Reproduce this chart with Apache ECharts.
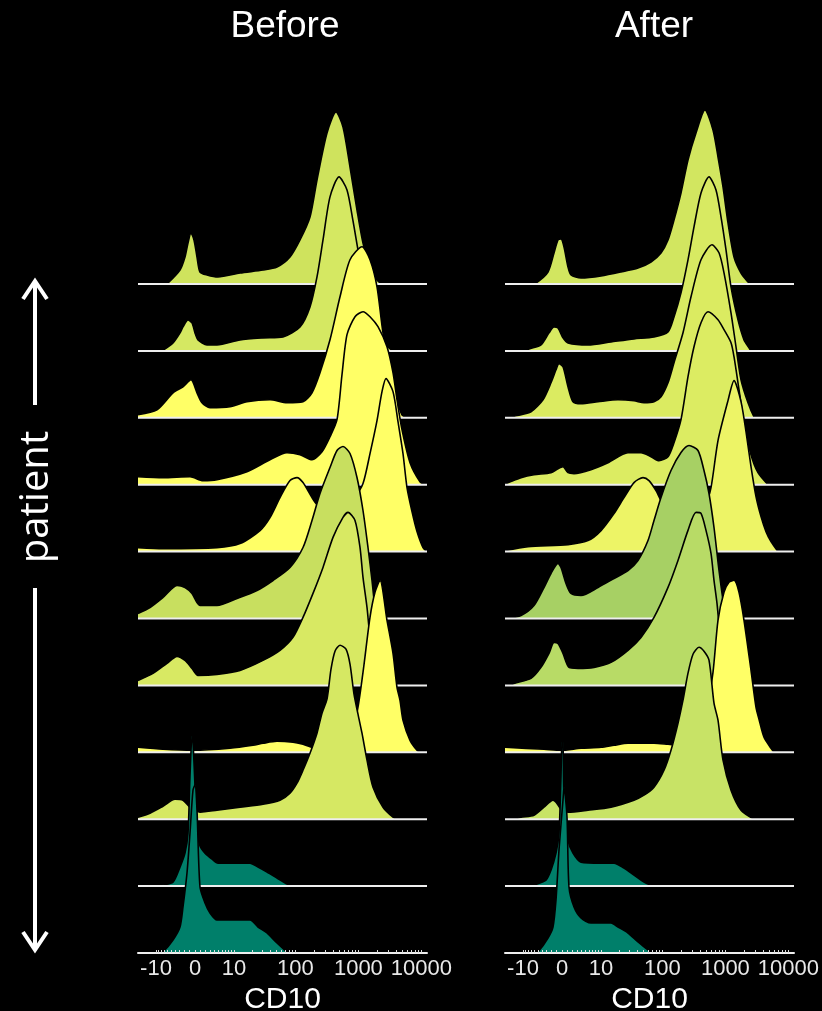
<!DOCTYPE html>
<html>
<head>
<meta charset="utf-8">
<script src="https://cdn.jsdelivr.net/npm/echarts@6/dist/echarts.min.js"></script>
<style>
  html, body { margin: 0; padding: 0; background: #000; }
  #chart { width: 822px; height: 1011px; }
</style>
</head>
<body>
<div id="chart"></div>
<script>
// CD10 intensity is shown on an arcsinh display scale (about 63 channels per decade).
const CHANNELS_PER_E = 27.36;
const LINEAR_WIDTH = 5.1;
function channel(v) { return CHANNELS_PER_E * Math.asinh(v / LINEAR_WIDTH); }

const PANEL_TITLES = ['Before', 'After'];
const AXIS_NAME = 'CD10';
const SIDE_LABEL = 'patient';

const TICK_VALUES = [-10, 0, 10, 100, 1000, 10000];
const TICK_LABELS = ['-10', '0', '10', '100', '1000', '10000'];
const MINOR_TICK_VALUES = [-10, -9, -8, -7, -6, -5, -4, -3, -2, -1, 0, 1, 2, 3, 4, 5, 6, 7, 8, 9, 10,
  20, 30, 40, 50, 60, 70, 80, 90, 100, 200, 300, 400, 500, 600, 700, 800, 900,
  1000, 2000, 3000, 4000, 5000, 6000, 7000, 8000, 9000, 10000];
const CHANNEL_RANGE = [-57, 232];

// Histograms, one per patient row (top to bottom): [display channel, normalised count]
const before_r0 = [[-28,0],[-15,14],[-10,27],[-7,41],[-4,51],[-1,44],[2,27],[5,12],[12,9],[23,7],[45,11],[68,14],[82,17],[95,27],[105,44],[115,67],[122,104],[132,151],[141,172],[148,157],[155,117],[162,74],[168,41],[175,17],[182,4],[187,0]];
const before_r1 = [[-33,0],[-22,8],[-15,18],[-12,24],[-7,31],[-3,28],[0,18],[3,11],[12,6],[22,6],[45,11],[68,13],[88,14],[105,24],[115,44],[122,74],[128,111],[135,154],[144,174],[152,161],[158,130],[165,90],[175,45],[183,18],[192,5],[198,0]];
const before_r2 = [[-57,3],[-38,8],[-22,25],[-12,31],[-4,38],[2,25],[7,15],[15,10],[35,11],[52,16],[75,18],[92,15],[108,16],[117,25],[125,45],[135,78],[145,121],[155,158],[167,171],[175,158],[182,131],[188,85],[195,51],[202,18],[207,3],[212,0]];
const before_r3 = [[-57,8],[-32,7],[-5,8],[8,4],[22,5],[52,13],[75,25],[92,32],[105,30],[117,25],[127,33],[135,48],[142,65],[147,110],[152,150],[160,168],[168,173],[175,168],[183,158],[192,138],[198,112],[202,85],[207,55],[215,22],[225,3],[230,0]];
const before_r4 = [[-57,4],[-32,3],[22,4],[45,8],[65,21],[75,34],[85,54],[95,71],[102,74],[108,69],[117,54],[122,47],[130,42],[140,42],[150,46],[160,55],[168,68],[175,98],[182,131],[187,160],[191,173],[198,160],[203,130],[208,98],[212,64],[217,40],[222,20],[228,4],[232,0]];
const before_r5 = [[-57,5],[-45,11],[-32,21],[-18,33],[-10,31],[-3,25],[5,13],[22,13],[42,20],[62,28],[78,38],[95,51],[108,71],[117,98],[125,125],[135,151],[142,168],[148,172],[155,165],[162,141],[168,108],[173,71],[177,38],[180,11],[183,0]];
const before_r6 = [[-57,5],[-42,12],[-28,22],[-18,29],[-10,25],[-3,17],[3,10],[22,11],[45,15],[68,25],[85,35],[98,48],[108,68],[118,92],[128,118],[138,148],[148,168],[153,173],[160,165],[165,138],[168,108],[172,78],[175,48],[180,18],[185,0]];
const before_r7 = [[-57,5],[-32,3],[-2,2],[35,4],[58,7],[68,9],[82,11],[98,10],[108,8],[118,5],[135,6],[150,10],[155,20],[162,40],[168,80],[175,135],[180,160],[185,172],[192,132],[198,99],[202,65],[205,52],[208,32],[215,12],[222,2],[225,0]];
const before_r8 = [[-57,2],[-45,6],[-32,13],[-20,20],[-12,19],[-5,12],[5,7],[22,9],[45,12],[68,15],[85,19],[95,26],[102,36],[108,49],[115,66],[122,86],[127,106],[132,120],[136,150],[140,168],[145,174],[151,170],[155,155],[159,125],[163,105],[167,86],[172,59],[178,32],[188,12],[198,2],[202,0]];
const before_r9 = [[-36,0],[-33,1],[-22,4],[-15,19],[-10,33],[-7,53],[-5,110],[-3,150],[-2,144],[0,100],[2,55],[5,40],[10,33],[17,27],[23,23],[35,23],[55,23],[63,19],[72,14],[82,8],[92,2],[95,0]];
const before_r10 = [[-35,0],[-32,1],[-22,13],[-15,26],[-12,46],[-8,80],[-5,120],[-2,163],[0,168],[2,143],[5,66],[10,50],[15,40],[22,33],[35,33],[55,33],[63,26],[72,20],[82,10],[92,1],[95,0]];

const after_r0 = [[-31,0],[-26,1],[-14,12],[-8,31],[-4,44],[-1,45],[2,37],[6,17],[9,9],[19,6],[39,8],[59,12],[76,16],[89,22],[99,31],[106,44],[112,64],[119,91],[126,124],[134,151],[143,174],[151,154],[156,127],[161,97],[166,61],[172,27],[179,11],[186,2],[188,0]];
const after_r1 = [[-37,0],[-33,2],[-21,6],[-13,18],[-8,24],[-4,23],[1,13],[6,8],[26,6],[49,9],[72,12],[92,14],[106,19],[112,34],[119,58],[126,91],[132,124],[139,158],[147,174],[154,161],[159,134],[164,101],[169,64],[176,31],[182,11],[187,3],[189,0]];
const after_r2 = [[-54,0],[-46,2],[-31,6],[-19,18],[-11,35],[-6,48],[-3,54],[1,51],[6,31],[11,16],[19,14],[36,16],[56,18],[72,17],[82,15],[92,16],[99,21],[106,35],[112,55],[121,85],[129,121],[139,158],[150,173],[157,165],[162,145],[169,105],[174,71],[179,38],[186,15],[192,1],[194,0]];
const after_r3 = [[-57,1],[-54,2],[-41,7],[-28,10],[-11,12],[-4,16],[1,18],[6,12],[12,11],[29,15],[46,22],[66,32],[79,32],[89,28],[97,24],[106,28],[112,42],[119,65],[126,108],[132,138],[139,162],[146,173],[156,165],[162,155],[169,142],[172,128],[177,95],[182,62],[189,30],[196,12],[206,0]];
const after_r4 = [[-57,1],[-34,5],[6,7],[26,11],[39,21],[52,38],[62,54],[72,69],[81,74],[87,71],[94,61],[101,48],[109,44],[124,42],[134,45],[144,50],[149,64],[156,111],[166,151],[172,171],[179,150],[184,120],[189,85],[194,55],[199,35],[204,20],[209,10],[216,0]];
const after_r5 = [[-54,0],[-41,3],[-28,13],[-18,31],[-11,45],[-4,55],[-1,51],[4,35],[9,25],[19,23],[36,31],[52,40],[66,48],[76,58],[86,78],[92,98],[99,121],[109,148],[119,166],[127,173],[136,168],[142,148],[147,125],[152,91],[157,48],[161,18],[164,0]];
const after_r6 = [[-51,0],[-48,2],[-31,7],[-21,18],[-13,32],[-8,43],[-4,42],[1,32],[7,18],[16,17],[32,18],[49,23],[66,35],[79,48],[92,68],[106,98],[116,125],[126,155],[134,173],[139,172],[144,155],[149,132],[152,105],[155,82],[157,60],[159,35],[162,12],[166,0]];
const after_r7 = [[-57,5],[-18,3],[-1,2],[19,4],[39,5],[52,7],[66,9],[92,9],[106,8],[119,7],[134,10],[139,20],[145,45],[151,80],[156,132],[162,160],[167,170],[172,172],[177,160],[182,132],[189,82],[194,45],[197,33],[202,15],[209,4],[212,0]];
const after_r8 = [[-48,0],[-41,2],[-28,4],[-18,12],[-9,19],[-6,17],[-1,10],[6,7],[26,9],[49,12],[72,19],[82,24],[92,32],[102,49],[109,69],[116,96],[121,119],[126,146],[131,165],[137,172],[142,168],[147,159],[152,116],[156,99],[161,59],[169,29],[179,9],[192,0]];
const after_r9 = [[-31,0],[-28,1],[-16,6],[-11,16],[-6,33],[-3,53],[-1,110],[0,144],[1,144],[2,86],[6,46],[11,33],[19,24],[39,23],[52,23],[62,18],[72,11],[82,4],[91,0]];
const after_r10 = [[-27,0],[-24,1],[-14,15],[-9,26],[-6,53],[-3,103],[1,153],[2,166],[5,136],[7,66],[12,46],[19,35],[29,30],[49,30],[56,26],[66,20],[76,11],[86,3],[89,0]];

const BEFORE_ROWS = [before_r0, before_r1, before_r2, before_r3, before_r4, before_r5, before_r6, before_r7, before_r8, before_r9, before_r10];
const AFTER_ROWS = [after_r0, after_r1, after_r2, after_r3, after_r4, after_r5, after_r6, after_r7, after_r8, after_r9, after_r10];

// Fill colours per row
const BEFORE_FILLS = ['#cfe35d', '#d5e862', '#ffff66', '#ffff66', '#ffff66', '#c8df5f', '#d8e963', '#ffff66', '#d6e863', '#007f6a', '#007f6a'];
const AFTER_FILLS = ['#d2e660', '#d8ea62', '#dbeb61', '#dcec62', '#edf466', '#a7d064', '#b8db66', '#ffff66', '#c8e366', '#007f6a', '#007f6a'];

// Layout
const ROW_GAP = 66.9;
const PLOT_TOP = 100, PLOT_BOTTOM = 58;
const PLOT_HEIGHT = 1011 - PLOT_TOP - PLOT_BOTTOM;
const PANEL_LEFT = [138, 505];
const PANEL_WIDTH = 289;
const TITLE_CENTERS = [280, 649];
const FONT = '"Liberation Sans", Arial, sans-serif';

const chart = echarts.init(document.getElementById('chart'), null, { renderer: 'canvas' });

function tickLabel(value) {
  for (let i = 0; i < TICK_VALUES.length; i++) {
    if (Math.abs(channel(TICK_VALUES[i]) - value) < 1e-6) return TICK_LABELS[i];
  }
  return '';
}

const grids = [], xAxes = [], yAxes = [], series = [];
const panels = [BEFORE_ROWS, AFTER_ROWS];
const fills = [BEFORE_FILLS, AFTER_FILLS];

panels.forEach((rows, p) => {
  grids.push({
    left: PANEL_LEFT[p], width: PANEL_WIDTH, top: PLOT_TOP, height: PLOT_HEIGHT,
    containLabel: false, outerBoundsMode: 'none'
  });
  xAxes.push({
    type: 'value', gridIndex: p, min: CHANNEL_RANGE[0], max: CHANNEL_RANGE[1], z: 100,
    name: AXIS_NAME, nameLocation: 'middle', nameGap: 27,
    nameTextStyle: { color: '#ffffff', fontSize: 30, fontFamily: FONT },
    axisLine: { show: true, onZero: false, lineStyle: { color: '#eeeeee', width: 2 } },
    axisTick: { show: true, inside: true, length: 3, customValues: MINOR_TICK_VALUES.map(channel), lineStyle: { color: '#dddddd', width: 1 } },
    axisLabel: { show: true, customValues: TICK_VALUES.map(channel), formatter: tickLabel, color: '#e8e8e8', fontSize: 22, fontFamily: FONT, margin: 5 },
    splitLine: { show: false }
  });
  yAxes.push({ type: 'value', gridIndex: p, min: 0, max: PLOT_HEIGHT, show: false });

  rows.forEach((hist, r) => {
    const base = (rows.length - 1 - r) * ROW_GAP;
    series.push({
      type: 'line', xAxisIndex: p, yAxisIndex: p, z: 10 + 2 * r,
      data: hist.map(([c, n]) => [c, base + n]),
      symbol: 'none', smooth: 0.25, silent: true, animation: false,
      lineStyle: { color: '#000000', width: 1.6 },
      areaStyle: { color: fills[p][r], opacity: 1, origin: base }
    });
    series.push({
      type: 'line', xAxisIndex: p, yAxisIndex: p, z: 11 + 2 * r,
      data: [[CHANNEL_RANGE[0], base], [CHANNEL_RANGE[1], base]],
      symbol: 'none', silent: true, animation: false,
      lineStyle: { color: '#eeeeee', width: 2 }
    });
  });
});

chart.setOption({
  backgroundColor: '#000000',
  animation: false,
  title: PANEL_TITLES.map((t, i) => ({
    text: t, left: TITLE_CENTERS[i], top: 3, textAlign: 'center',
    textStyle: { color: '#ffffff', fontSize: 37, fontWeight: 'normal', fontFamily: FONT }
  })),
  grid: grids,
  xAxis: xAxes,
  yAxis: yAxes,
  series: series,
  graphic: [
    { type: 'line', shape: { x1: 35, y1: 281, x2: 35, y2: 405 }, style: { stroke: '#ffffff', lineWidth: 4 } },
    { type: 'line', shape: { x1: 35, y1: 588, x2: 35, y2: 950 }, style: { stroke: '#ffffff', lineWidth: 4 } },
    { type: 'polyline', shape: { points: [[23, 299], [35, 281], [47, 299]] }, style: { stroke: '#ffffff', lineWidth: 4, fill: null } },
    { type: 'polyline', shape: { points: [[23, 932], [35, 950], [47, 932]] }, style: { stroke: '#ffffff', lineWidth: 4, fill: null } },
    { type: 'text', x: 37, y: 497, rotation: Math.PI / 2,
      style: { text: SIDE_LABEL, fill: '#ffffff', font: '40px "Open Sans", sans-serif', textAlign: 'center', textVerticalAlign: 'middle' } }
  ]
});
</script>
</body>
</html>
